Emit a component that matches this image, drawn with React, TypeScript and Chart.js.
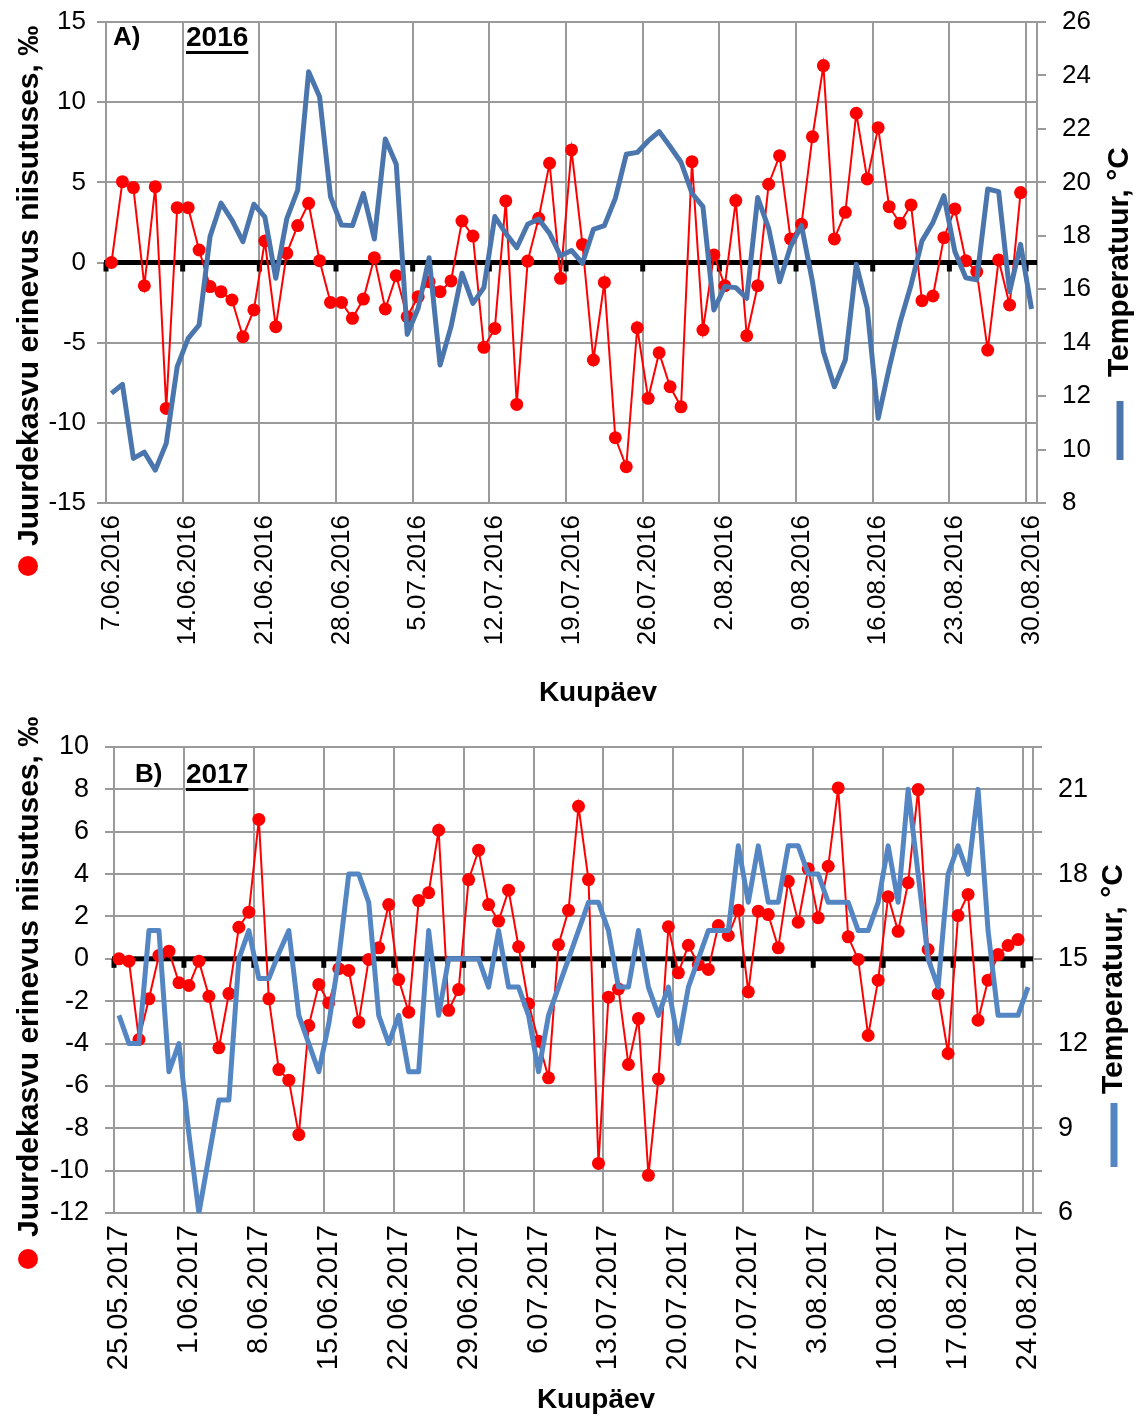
import { useEffect, useRef } from 'react';
import { Chart, registerables } from 'chart.js';

Chart.register(...registerables);

const FONT = "'Liberation Sans', Arial, Helvetica, sans-serif";
const GRID = '#9a9a9a';

// ---- 2016 season: 7.06.2016 – 30.08.2016 (daily) ----
const startA: [number, number, number] = [2016, 6, 7];
const growthA: (number | null)[] = [
  0.0, 5.04, 4.67, -1.45, 4.73, -9.1, 3.42, 3.42, 0.78, -1.5, -1.82, -2.34, -4.63, -2.96, 1.34, -4.0, 0.57, 2.3, 3.69, 0.11, -2.49,
  -2.49, -3.48, -2.28, 0.3, -2.9, -0.82, -3.38, -2.13, -1.2, -1.82, -1.15, 2.59, 1.65, -5.29, -4.11, 3.84, -8.85, 0.09, 2.76, 6.19, -0.99,
  7.02, 1.13, -6.08, -1.24, -10.93, -12.74, -4.07, -8.47, -5.63, -7.75, -9.0, 6.29, -4.21, 0.47, -1.45, 3.86, -4.57, -1.45, 4.88, 6.66, 1.47,
  2.38, 7.85, 12.28, 1.47, 3.13, 9.31, 5.21, 8.41, 3.48, 2.45, 3.59, -2.38, -2.09, 1.55, 3.34, 0.11, -0.57, -5.46, 0.16, -2.65, 4.36,
  null,
];
const tempA: number[] = [
  12.1, 12.44, 9.67, 9.9, 9.23, 10.23, 13.1, 14.16, 14.66, 17.97, 19.22, 18.59, 17.78, 19.18, 18.71, 16.41, 18.63, 19.71, 24.14, 23.2, 19.46,
  18.4, 18.38, 19.59, 17.88, 21.62, 20.68, 14.31, 15.29, 17.18, 13.16, 14.6, 16.6, 15.47, 16.06, 18.72, 18.09, 17.55, 18.43, 18.63, 18.09, 17.25,
  17.45, 16.97, 18.24, 18.38, 19.4, 21.05, 21.12, 21.55, 21.9, 21.34, 20.75, 19.59, 19.09, 15.22, 16.1, 16.06, 15.66, 19.43, 18.28, 16.28, 17.6,
  18.38, 16.28, 13.66, 12.35, 13.35, 16.93, 15.29, 11.17, 13.04, 14.76, 16.16, 17.81, 18.5, 19.5, 17.41, 16.43, 16.35, 19.75, 19.65, 15.91, 17.68,
  15.26,
];
const growthTicksA = { min: -15, max: 15, step: 5 };
const tempTicksA = { min: 8, max: 26, step: 2, labelEvery: 2 };

// ---- 2017 season: 25.05.2017 – 24.08.2017 (daily) ----
const startB: [number, number, number] = [2017, 5, 25];
const growthB: (number | null)[] = [
  0.0, -0.11, -3.81, -1.89, 0.16, 0.36, -1.13, -1.26, -0.11, -1.77, -4.2, -1.64, 1.49, 2.2, 6.58, -1.89, -5.23, -5.73, -8.3, -3.15, -1.21, -2.08, -0.47,
  -0.55, -2.99, -0.03, 0.52, 2.56, -0.98, -2.52, 2.75, 3.12, 6.07, -2.43, -1.45, 3.74, 5.13, 2.56, 1.78, 3.24, 0.57, -2.12, -3.89, -5.62, 0.67, 2.29,
  7.2, 3.74, -9.66, -1.81, -1.42, -4.99, -2.82, -10.22, -5.67, 1.51, -0.66, 0.64, -0.27, -0.5, 1.57, 1.1, 2.29, -1.56, 2.25, 2.09, 0.52, 3.66, 1.73,
  4.25, 1.94, 4.37, 8.07, 1.04, -0.03, -3.62, -1.01, 2.93, 1.3, 3.59, 7.99, 0.44, -1.64, -4.47, 2.04, 3.04, -2.9, -1.01, 0.2, 0.63, 0.91,
  null,
];
const tempB: number[] = [
  13, 12, 12, 16, 16, 11, 12, 8.8, 6, 8, 10, 10, 15, 16, 14.3, 14.3, 15.2, 16, 13, 12, 11, 12.7, 15,
  18, 18, 17, 13, 12, 13, 11, 11, 16, 13, 15, 15, 15, 15, 14, 16, 14, 14, 13, 11, 13, 14, 15,
  16, 17, 17, 16, 14, 14, 16, 14, 13, 14, 12, 14, 15, 16, 16, 16, 19, 17, 19, 17, 17, 19, 19,
  18, 18, 17, 17, 17, 16, 16, 17, 19, 17, 21, 18, 15, 14, 18, 19, 18, 21, 16, 13, 13, 13, 14,
];
const growthTicksB = { min: -12, max: 10, step: 2 };
const tempTicksB = { min: 6, max: 22.5, step: 1.5, labelEvery: 3 };

const growthTitle = 'Juurdekasvu erinevus niisutuses, ‰';
const tempTitle = 'Temperatuur, °C';
const xTitle = 'Kuupäev';

function dailyLabels(start: [number, number, number], count: number): string[] {
  const out: string[] = [];
  for (let i = 0; i < count; i++) {
    const d = new Date(Date.UTC(start[0], start[1] - 1, start[2] + i));
    const mm = String(d.getUTCMonth() + 1).padStart(2, '0');
    out.push(`${d.getUTCDate()}.${mm}.${d.getUTCFullYear()}`);
  }
  return out;
}

type Layout = {
  height: number;
  padTop: number;
  xAxisHeight: number;
  leftWidth: number;
  rightWidth: number;
  tickFont: number;
  leftPad: number;
  dateFont: number;
  blue: string;
  letter: string;
  year: string;
  letterX: number;
  yearX: number;
  headY: number;
  leftTitle: { x: number; y: number; dotY: number };
  rightTitle: { x: number; y: number; barTop: number; barBottom: number };
  xTitlePos: { x: number; y: number };
};

type Panel = {
  labels: string[];
  growth: (number | null)[];
  temp: number[];
  gTicks: { min: number; max: number; step: number };
  tTicks: { min: number; max: number; step: number; labelEvery: number };
  layout: Layout;
};

const panelA: Panel = {
  labels: dailyLabels(startA, tempA.length),
  growth: growthA,
  temp: tempA,
  gTicks: growthTicksA,
  tTicks: tempTicksA,
  layout: {
    height: 712,
    padTop: 22,
    xAxisHeight: 209,
    leftWidth: 106,
    rightWidth: 102,
    tickFont: 26,
    leftPad: 11,
    dateFont: 26,
    blue: '#4a76ad',
    letter: 'A)',
    year: '2016',
    letterX: 113,
    yearX: 186,
    headY: 38,
    leftTitle: { x: 30, y: 546, dotY: 566 },
    rightTitle: { x: 1120, y: 377, barTop: 401, barBottom: 460 },
    xTitlePos: { x: 598, y: 693 },
  },
};

const panelB: Panel = {
  labels: dailyLabels(startB, tempB.length),
  growth: growthB,
  temp: tempB,
  gTicks: growthTicksB,
  tTicks: tempTicksB,
  layout: {
    height: 709,
    padTop: 35,
    xAxisHeight: 208,
    leftWidth: 114,
    rightWidth: 106,
    tickFont: 27,
    leftPad: 16,
    dateFont: 29,
    blue: '#5486c4',
    letter: 'B)',
    year: '2017',
    letterX: 135,
    yearX: 186,
    headY: 63,
    leftTitle: { x: 30, y: 525, dotY: 547 },
    rightTitle: { x: 1114, y: 382, barTop: 391, barBottom: 455 },
    xTitlePos: { x: 596, y: 688 },
  },
};

// Thick black horizontal axis crossing at zero, with weekly tick marks
const zeroAxisPlugin = {
  id: 'zeroAxis',
  beforeDatasetsDraw(chart: any) {
    const { ctx, chartArea, scales } = chart;
    const x = scales.x;
    const y = scales.yG.getPixelForValue(0);
    const half = (x.getPixelForValue(1) - x.getPixelForValue(0)) / 2;
    ctx.save();
    ctx.fillStyle = '#000';
    ctx.fillRect(chartArea.left - 2, y - 2.5, chartArea.right - chartArea.left + 2, 5);
    const n = chart.data.labels.length;
    for (let i = 0; i < n; i += 7) {
      const px = x.getPixelForValue(i) - half;
      ctx.fillRect(px - 2.5, y, 5, 9);
    }
    ctx.restore();
  },
};

function titlesPlugin(L: Layout) {
  return {
    id: 'titles',
    afterDraw(chart: any) {
      const ctx: CanvasRenderingContext2D = chart.ctx;
      ctx.save();
      ctx.fillStyle = '#000';
      ctx.textBaseline = 'middle';

      // Left axis title with its series marker
      ctx.save();
      ctx.translate(L.leftTitle.x, L.leftTitle.y);
      ctx.rotate(-Math.PI / 2);
      ctx.font = `bold 30px ${FONT}`;
      ctx.textAlign = 'left';
      ctx.fillText(growthTitle, 0, 0);
      ctx.restore();
      ctx.beginPath();
      ctx.fillStyle = '#ff0000';
      ctx.arc(L.leftTitle.x - 2, L.leftTitle.dotY, 10, 0, Math.PI * 2);
      ctx.fill();

      // Right axis title with its series marker
      ctx.fillStyle = '#000';
      ctx.save();
      ctx.translate(L.rightTitle.x, L.rightTitle.y);
      ctx.rotate(-Math.PI / 2);
      ctx.font = `bold 30px ${FONT}`;
      ctx.textAlign = 'left';
      ctx.fillText(tempTitle, 0, 0);
      ctx.restore();
      ctx.fillStyle = L.blue;
      ctx.fillRect(L.rightTitle.x - 3.5, L.rightTitle.barTop, 7, L.rightTitle.barBottom - L.rightTitle.barTop);

      // Category axis title
      ctx.fillStyle = '#000';
      ctx.font = `bold 28px ${FONT}`;
      ctx.textAlign = 'center';
      ctx.fillText(xTitle, L.xTitlePos.x, L.xTitlePos.y);

      // Panel letter and underlined year
      ctx.textAlign = 'left';
      ctx.font = `bold 26px ${FONT}`;
      ctx.fillText(L.letter, L.letterX, L.headY);
      ctx.font = `bold 28px ${FONT}`;
      ctx.fillText(L.year, L.yearX, L.headY);
      const w = ctx.measureText(L.year).width;
      ctx.fillRect(L.yearX, L.headY + 13, w, 3);
      ctx.restore();
    },
  };
}

// keep the plot rectangle fixed: value axes get a set width and no extra vertical padding
function fixVertical(width: number) {
  return (s: any) => {
    s.width = width;
    s.paddingTop = 0;
    s.paddingBottom = 0;
  };
}

function buildChart(canvas: HTMLCanvasElement, p: Panel) {
  const L = p.layout;
  return new Chart(canvas, {
    type: 'line',
    data: {
      labels: p.labels,
      datasets: [
        {
          label: tempTitle,
          data: p.temp,
          yAxisID: 'yT',
          borderColor: L.blue,
          backgroundColor: L.blue,
          borderWidth: 5,
          pointRadius: 0,
          tension: 0,
          borderJoinStyle: 'round',
          order: 0,
        },
        {
          label: growthTitle,
          data: p.growth,
          yAxisID: 'yG',
          borderColor: '#ff0000',
          backgroundColor: '#ff0000',
          borderWidth: 2,
          pointRadius: 6.5,
          pointBorderWidth: 0,
          pointBackgroundColor: '#ff0000',
          tension: 0,
          order: 1,
        },
      ],
    },
    options: {
      responsive: false,
      animation: false,
      events: [],
      layout: { padding: { top: L.padTop, left: 0, right: 0, bottom: 0 } },
      plugins: { legend: { display: false }, tooltip: { enabled: false } },
      scales: {
        x: {
          type: 'category',
          offset: true,
          grid: {
            offset: true,
            drawTicks: false,
            lineWidth: 2,
            color: (c: any) => (c.index === undefined || c.index % 7 === 0 ? GRID : 'rgba(0,0,0,0)'),
          },
          border: { display: true, color: GRID, width: 2 },
          ticks: {
            autoSkip: false,
            minRotation: 90,
            maxRotation: 90,
            padding: 12,
            color: '#000',
            font: { family: FONT, size: L.dateFont },
            callback: (_v: any, i: number) => (i % 7 === 0 ? p.labels[i] : ''),
          },
          afterFit: (s: any) => {
            s.height = L.xAxisHeight;
            s.paddingLeft = 0;
            s.paddingRight = 0;
          },
        },
        yG: {
          type: 'linear',
          position: 'left',
          min: p.gTicks.min,
          max: p.gTicks.max,
          grid: { color: GRID, lineWidth: 2, drawTicks: true, tickLength: 9 },
          border: { display: true, color: GRID, width: 2 },
          ticks: {
            stepSize: p.gTicks.step,
            padding: L.leftPad,
            color: '#000',
            font: { family: FONT, size: L.tickFont },
            callback: (v: any) => String(v),
          },
          afterFit: fixVertical(L.leftWidth),
        },
        yT: {
          type: 'linear',
          position: 'right',
          min: p.tTicks.min,
          max: p.tTicks.max,
          grid: { drawOnChartArea: false, color: GRID, lineWidth: 2, drawTicks: true, tickLength: 9 },
          border: { display: true, color: GRID, width: 2 },
          ticks: {
            stepSize: p.tTicks.step,
            padding: 16,
            color: '#000',
            font: { family: FONT, size: L.tickFont },
            callback: (v: any) => ((v - p.tTicks.min) % p.tTicks.labelEvery === 0 ? String(v) : ''),
          },
          afterFit: fixVertical(L.rightWidth),
        },
      },
    } as any,
    plugins: [zeroAxisPlugin, titlesPlugin(L)],
  });
}

function PanelChart({ panel, top }: { panel: Panel; top: number }) {
  const ref = useRef<HTMLCanvasElement | null>(null);
  useEffect(() => {
    if (!ref.current) return;
    const chart = buildChart(ref.current, panel);
    return () => chart.destroy();
  }, [panel]);
  return (
    <canvas
      ref={ref}
      width={1139}
      height={panel.layout.height}
      style={{ position: 'absolute', left: 0, top, width: 1139, height: panel.layout.height, display: 'block' }}
    />
  );
}

export default function App() {
  return (
    <div style={{ position: 'absolute', left: 0, top: 0, width: 1139, height: 1421, background: '#ffffff' }}>
      <PanelChart panel={panelA} top={0} />
      <PanelChart panel={panelB} top={712} />
    </div>
  );
}
